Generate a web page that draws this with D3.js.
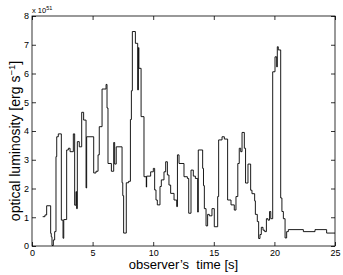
<!DOCTYPE html>
<html>
<head>
<meta charset="utf-8">
<script src="https://cdn.jsdelivr.net/npm/d3@7"></script>
<style>
  html, body { margin: 0; padding: 0; background: #fff; }
  svg { display: block; font-family: 'Liberation Sans', Arial, sans-serif; }
</style>
</head>
<body>
<svg id="chart" width="343" height="275"></svg>
<script>
// step start times [s] and optical luminosity [1e51 erg/s]
const times = [
  0.88, 1.07, 1.21, 1.54, 1.59, 1.65, 1.76, 1.87, 1.98, 2.04,
  2.17, 2.42, 2.56, 2.62, 2.86, 3.00, 3.14, 3.41, 3.52, 3.63,
  3.68, 3.74, 3.90, 4.10, 4.26, 4.46, 4.51, 5.09, 5.28, 5.45,
  5.55, 5.78, 6.11, 6.19, 6.27, 6.55, 6.74, 6.82, 6.95, 7.43,
  7.49, 7.56, 7.78, 7.97, 8.12, 8.20, 8.28, 8.53, 8.72, 8.78,
  8.82, 9.00, 9.24, 9.43, 9.46, 9.79, 10.01, 10.12, 10.23, 10.34,
  10.56, 10.67, 10.89, 11.03, 11.17, 11.30, 11.44, 11.72, 11.94, 12.00,
  12.13, 12.54, 12.82, 12.93, 13.12, 13.31, 13.48, 13.67, 13.72, 14.08,
  14.15, 14.22, 14.36, 14.49, 14.63, 14.85, 15.04, 15.32, 15.40, 15.68,
  15.87, 16.14, 16.42, 16.69, 16.83, 16.98, 17.10, 17.22, 17.33, 17.52,
  17.62, 17.82, 18.04, 18.15, 18.37, 18.43, 18.59, 18.70, 18.81, 18.92,
  19.06, 19.20, 19.34, 19.47, 19.60, 19.70, 19.86, 20.05, 20.19, 20.24,
  20.32, 20.52, 20.62, 20.74, 20.88, 21.01, 21.15, 22.39, 23.35, 24.31
]
const lum = [
  1.02, 1.08, 1.40, 0.44, 0.32, 0.02, 0.21, 0.50, 3.11, 3.80,
  3.90, 0.90, 0.27, 0.92, 3.34, 3.40, 3.28, 3.90, 1.42, 1.89,
  1.30, 3.63, 3.45, 4.65, 4.38, 2.02, 3.80, 2.54, 2.60, 3.17,
  4.15, 5.46, 5.62, 4.80, 2.87, 2.60, 3.60, 2.85, 3.45, 2.20,
  1.75, 0.45, 2.20, 2.25, 4.40, 5.40, 7.46, 7.05, 5.43, 6.90,
  6.18, 4.50, 2.41, 2.05, 2.43, 2.58, 2.70, 1.95, 1.60, 1.43,
  2.07, 2.30, 2.58, 2.93, 2.47, 2.12, 1.83, 1.60, 1.37, 3.17,
  2.87, 2.41, 2.35, 1.14, 2.64, 2.43, 2.35, 1.18, 3.34, 2.70,
  2.10, 1.30, 0.70, 1.10, 1.05, 1.30, 0.67, 1.72, 3.69, 3.80,
  3.72, 1.60, 1.43, 1.25, 1.72, 2.87, 3.40, 3.28, 3.95, 3.40,
  2.19, 2.85, 1.94, 1.82, 1.57, 1.10, 0.85, 0.26, 0.40, 0.65,
  0.55, 0.50, 0.95, 0.90, 1.20, 0.95, 6.06, 6.58, 6.23, 6.93,
  6.82, 1.67, 1.20, 0.95, 0.28, 0.50, 0.57, 0.50, 0.57, 0.45
]
const tEnd = 25

const xTicks = [0, 5, 10, 15, 20, 25]
const yTicks = [0, 1, 2, 3, 4, 5, 6, 7, 8]

const width = 343
const height = 275
const margin = { top: 16, right: 8, bottom: 29, left: 32 }

const svg = d3.select('#chart')

const x = d3.scaleLinear().domain([0, 25]).range([margin.left, width - margin.right])
const y = d3.scaleLinear().domain([0, 8]).range([height - margin.bottom, margin.top])

// step data, last level held until tEnd
const pts = times.map((t, i) => ({ t, v: lum[i] }))
pts.push({ t: tEnd, v: lum[lum.length - 1] })

const line = d3.line()
  .x((d) => x(d.t))
  .y((d) => y(d.v))
  .curve(d3.curveStepAfter)

svg.append('path')
  .datum(pts)
  .attr('fill', 'none')
  .attr('stroke', '#000')
  .attr('stroke-width', 0.9)
  .attr('d', line)

// axes, MATLAB style: ticks pointing in, on all four sides
const tick = 4

const gx = svg.append('g')
  .attr('transform', `translate(0,${y(0)})`)
  .call(d3.axisBottom(x).tickValues(xTicks).tickSizeInner(-tick).tickSizeOuter(0).tickPadding(4))
const gxTop = svg.append('g')
  .attr('transform', `translate(0,${y(8)})`)
  .call(d3.axisTop(x).tickValues(xTicks).tickSizeInner(-tick).tickSizeOuter(0).tickFormat(''))
const gy = svg.append('g')
  .attr('transform', `translate(${x(0)},0)`)
  .call(d3.axisLeft(y).tickValues(yTicks).tickSizeInner(-tick).tickSizeOuter(0).tickPadding(3))
const gyRight = svg.append('g')
  .attr('transform', `translate(${x(25)},0)`)
  .call(d3.axisRight(y).tickValues(yTicks).tickSizeInner(-tick).tickSizeOuter(0).tickFormat(''))

;[gx, gxTop, gy, gyRight].forEach((g) => {
  g.select('.domain').remove()
  g.selectAll('line').attr('stroke', '#000').attr('stroke-width', 0.8)
  g.selectAll('text')
    .attr('fill', '#000')
    .style('font-family', "'Liberation Sans', Arial, sans-serif")
    .style('font-size', '9px')
})

svg.append('rect')
  .attr('x', x(0))
  .attr('y', y(8))
  .attr('width', x(25) - x(0))
  .attr('height', y(0) - y(8))
  .attr('fill', 'none')
  .attr('stroke', '#000')
  .attr('stroke-width', 0.8)

// exponent note above the y axis
const expo = svg.append('text')
  .attr('x', x(0))
  .attr('y', 13)
  .style('font-size', '7.5px')
expo.append('tspan').text('x 10')
expo.append('tspan').attr('dy', -3).style('font-size', '5.5px').text('51')

// axis titles
svg.append('text')
  .attr('x', (x(0) + x(25)) / 2)
  .attr('y', 269)
  .attr('text-anchor', 'middle')
  .style('font-size', '13px')
  .style('white-space', 'pre')
  .text('observer’s  time [s]')

const ylab = svg.append('text')
  .attr('transform', `translate(20,141) rotate(-90)`)
  .attr('text-anchor', 'middle')
  .style('font-size', '14px')
ylab.append('tspan').text('optical luminosity [erg s')
ylab.append('tspan').attr('dy', -5).style('font-size', '9.5px').text('−1')
ylab.append('tspan').attr('dy', 5).text(']')
</script>
</body>
</html>
